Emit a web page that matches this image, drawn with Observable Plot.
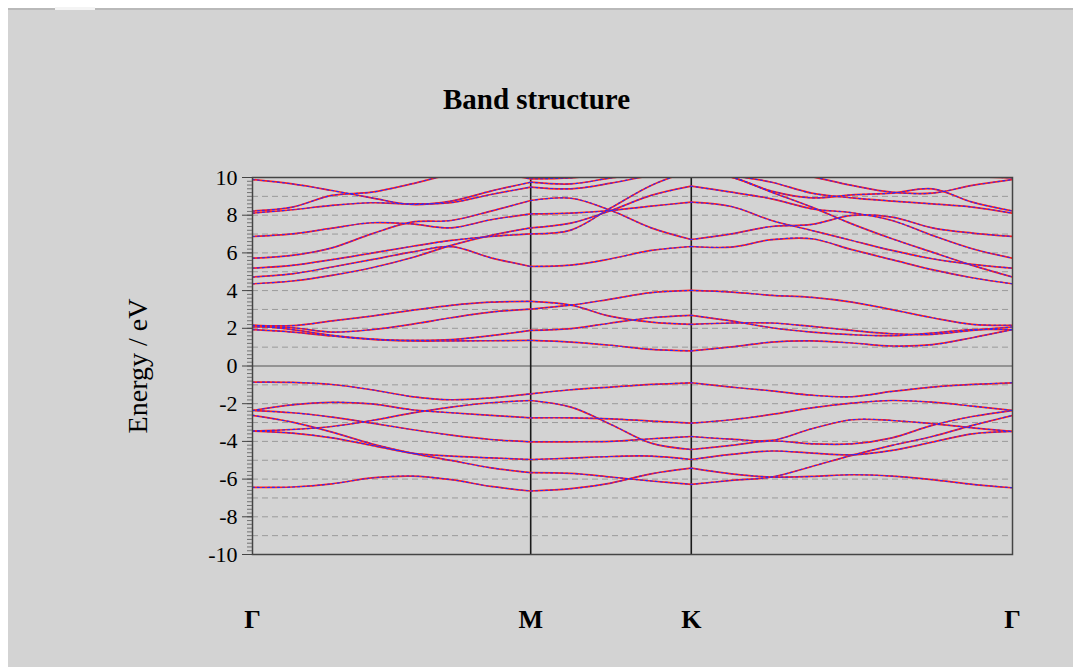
<!DOCTYPE html>
<html>
<head>
<meta charset="utf-8">
<script src="https://cdn.jsdelivr.net/npm/d3@7"></script>
<script src="https://cdn.jsdelivr.net/npm/@observablehq/plot@0.6"></script>
<style>
  html, body { margin: 0; padding: 0; background: #ffffff; overflow: hidden; width: 1073px; height: 667px; }
  #panel { position: absolute; left: 8px; top: 8px; width: 1065px; height: 659px; background: #d3d3d3; border-top: 2px solid #b9b9b9; box-sizing: border-box; }
  #tab { position: absolute; left: 55px; top: 7px; width: 40px; height: 3px; background: #f4f4f4; }
  #title { position: absolute; left: 0; top: 85px; width: 1073px; text-align: center; font: bold 29px "Liberation Serif", "DejaVu Serif", serif; line-height: 29px; color: #000; }
  #chart { position: absolute; left: 0; top: 140px; }
</style>
</head>
<body>
<div id="panel"></div>
<div id="tab"></div>
<div id="title">Band structure</div>
<div id="chart"></div>
<script>
// High-symmetry path Γ–M–K–Γ (path length units)
const kLabels = ["Γ", "M", "K", "Γ"];
const kTicks = [0, 0.5774, 0.9107, 1.5774];
// sample positions along the path
const kPath = [0, 0.0825, 0.165, 0.2474, 0.3299, 0.4124, 0.4949, 0.5774,
               0.6607, 0.7440, 0.8274, 0.9107,
               0.9940, 1.0774, 1.1607, 1.2440, 1.3274, 1.4107, 1.4940, 1.5774];
const segmentStarts = [0, 7, 11];
const segmentEnds = [7, 11, 19];

const yTicks = [-10, -8, -6, -4, -2, 0, 2, 4, 6, 8, 10];
const gridLevels = [-9, -8, -7, -6, -5, -4, -3, -2, -1, 1, 2, 3, 4, 5, 6, 7, 8, 9];

// Valence bands (eV)
const v1 = [-0.86,-0.87,-0.98,-1.26,-1.62,-1.79,-1.69,-1.48,-1.26,-1.12,-0.98,-0.89,-1.12,-1.32,-1.55,-1.63,-1.35,-1.12,-0.98,-0.89];
const v2 = [-2.36,-2.06,-1.93,-2.01,-2.32,-2.48,-2.62,-2.75,-2.75,-2.80,-2.92,-3.03,-2.85,-2.57,-2.22,-1.97,-1.83,-1.92,-2.13,-2.36];
const v3 = [-3.45,-3.37,-3.21,-2.89,-2.50,-2.18,-1.95,-1.83,-2.18,-3.10,-4.09,-4.43,-4.21,-3.98,-4.13,-4.13,-3.81,-3.15,-2.68,-2.36];
const v4 = [-2.36,-2.48,-2.71,-3.03,-3.37,-3.67,-3.90,-4.02,-4.02,-4.00,-3.86,-3.74,-3.88,-3.95,-3.33,-2.85,-2.89,-3.06,-3.28,-3.47];
const v5 = [-2.62,-2.98,-3.51,-4.13,-4.62,-5.01,-5.40,-5.66,-5.70,-5.89,-6.10,-6.28,-6.07,-5.89,-5.33,-4.74,-4.21,-3.74,-3.15,-2.62];
const v6 = [-3.45,-3.56,-3.81,-4.21,-4.62,-4.78,-4.87,-4.96,-4.89,-4.80,-4.78,-4.96,-4.69,-4.51,-4.62,-4.71,-4.48,-4.04,-3.60,-3.47];
const v7 = [-6.44,-6.42,-6.25,-5.94,-5.84,-6.03,-6.39,-6.63,-6.51,-6.21,-5.72,-5.42,-5.72,-5.89,-5.86,-5.77,-5.84,-6.03,-6.28,-6.46];

// Conduction bands (eV)
const c1 = [2.16,2.14,2.39,2.65,2.95,3.22,3.39,3.43,3.23,2.63,2.33,2.21,2.28,2.28,2.10,1.89,1.71,1.68,1.89,2.07];
const c2 = [2.07,2.03,1.80,1.93,2.21,2.56,2.86,3.02,3.23,3.55,3.89,4.01,3.92,3.75,3.64,3.39,2.99,2.56,2.21,2.16];
const c3 = [2.16,1.93,1.63,1.43,1.36,1.40,1.61,1.89,1.98,2.28,2.56,2.69,2.39,2.03,1.80,1.66,1.61,1.75,1.93,1.93];
const c4 = [1.93,1.80,1.59,1.41,1.33,1.33,1.34,1.36,1.27,1.10,0.88,0.80,1.01,1.27,1.33,1.22,1.06,1.13,1.50,1.93];
const c5 = [4.36,4.51,4.81,5.21,5.74,6.40,6.93,7.33,7.58,8.25,9.05,9.54,9.22,8.87,8.34,8.13,7.72,6.93,6.22,5.72];
const c6 = [4.72,4.89,5.25,5.64,6.04,6.33,5.74,5.28,5.35,5.69,6.13,6.34,6.31,6.70,6.75,6.17,5.64,5.11,4.68,4.36];
const c7 = [5.19,5.34,5.64,5.99,6.34,6.66,6.87,7.01,7.21,8.39,9.58,10.37,10.02,9.22,8.43,7.54,6.75,6.04,5.34,4.72];
const c8 = [5.72,5.87,6.27,7.01,7.63,7.72,8.22,8.78,8.90,8.25,7.33,6.71,7.01,7.40,7.51,7.99,7.90,7.33,7.05,6.87];
const c9 = [6.87,7.01,7.31,7.60,7.54,7.33,7.76,8.07,8.11,8.25,8.48,8.69,8.46,7.72,7.19,6.66,6.13,5.69,5.39,5.19];
const c10 = [8.11,8.29,8.52,8.66,8.60,8.67,9.10,9.49,9.40,9.70,10.11,10.37,10.02,9.28,8.92,9.08,9.17,9.40,8.69,8.22];
const c11 = [8.22,8.43,9.05,9.22,9.66,10.16,10.37,10.51,10.64,10.72,10.72,10.72,10.72,10.64,10.55,10.46,10.28,10.16,10.05,9.98];
const c12 = [9.89,9.66,9.31,8.92,8.57,8.75,9.28,9.75,9.66,9.98,10.28,10.46,10.11,9.75,9.17,8.92,8.75,8.60,8.43,8.11];
const c13 = [10.02,10.16,10.34,10.51,10.58,10.51,10.28,9.93,9.98,10.19,10.37,10.55,10.55,10.46,10.05,9.58,9.22,9.17,9.58,9.89];

const bands = [v1, v2, v3, v4, v5, v6, v7, c1, c2, c3, c4, c5, c6, c7, c8, c9, c10, c11, c12, c13];

// tidy rows, one path per band and path segment
const rows = [];
bands.forEach((band, b) => {
  segmentStarts.forEach((s, j) => {
    for (let i = s; i <= segmentEnds[j]; i++) {
      rows.push({id: b + "-" + j, k: kPath[i], E: band[i]});
    }
  });
});

const minorTicks = d3.range(-50, 51, 1).map(d => d / 5);

const serif = "'Liberation Serif', 'DejaVu Serif', serif";

const chart = Plot.plot({
  width: 1073,
  height: 527,
  marginLeft: 252,
  marginRight: 61,
  marginTop: 37,
  marginBottom: 113,
  x: {domain: [0, kTicks[3]], axis: null},
  y: {domain: [-10, 10], axis: null},
  style: {background: "transparent", fontFamily: serif, color: "#000"},
  marks: [
    Plot.ruleY(gridLevels, {stroke: "#9a9a9a", strokeDasharray: "6,4", strokeWidth: 1}),
    Plot.ruleY([0], {stroke: "#555555", strokeWidth: 1.2}),
    Plot.ruleX([kTicks[1], kTicks[2]], {stroke: "#1a1a1a", strokeWidth: 1.6}),
    Plot.line(rows, {x: "k", y: "E", z: "id", stroke: "#ff1e1e", strokeWidth: 1.7, curve: "catmull-rom", clip: true}),
    Plot.line(rows, {x: "k", y: "E", z: "id", stroke: "#2a2aff", strokeWidth: 1.1, strokeDasharray: "2,3", curve: "catmull-rom", clip: true}),
    Plot.frame({stroke: "#444444", strokeWidth: 1.5}),
    Plot.axisY({ticks: minorTicks, tickSize: 5, tickFormat: () => "", label: null, stroke: "#666666", strokeWidth: 0.9}),
    Plot.axisY({ticks: yTicks, tickSize: 10, tickPadding: 5, tickFormat: d => String(d), label: null, fontSize: 22, fontFamily: serif, stroke: "#444444"}),
    Plot.text(["Energy / eV"], {text: d => d, frameAnchor: "left", textAnchor: "middle", dx: -114, rotate: -90, fontSize: 28, fontFamily: serif, fill: "#000"}),
    Plot.text(kLabels, {text: d => d, x: kTicks, frameAnchor: "bottom", dy: 73, fontSize: 26, fontWeight: "bold", fontFamily: serif, fill: "#000"})
  ]
});
document.getElementById("chart").appendChild(chart);
</script>
</body>
</html>
